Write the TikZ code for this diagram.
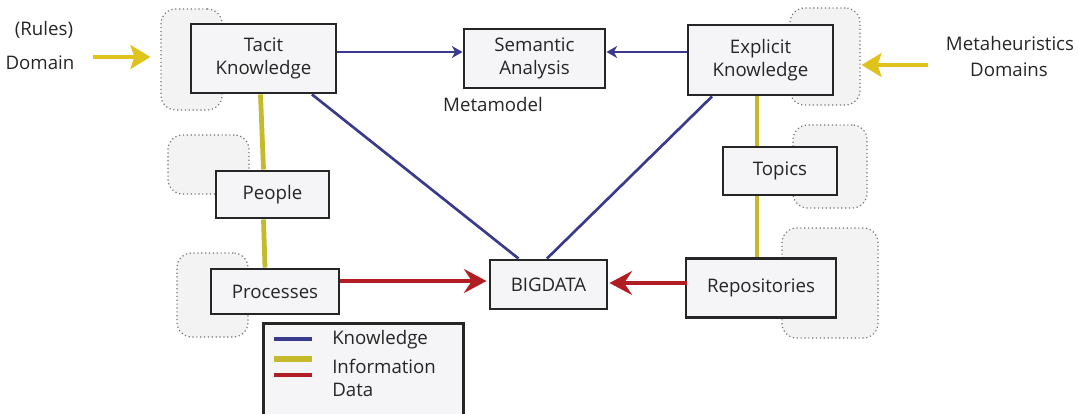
\documentclass[tikz,border=0pt]{standalone}
\usepackage{fontspec}
\setmainfont{Open Sans}
\usetikzlibrary{arrows.meta,calc}
\definecolor{kblue}{HTML}{3A3A8C}
\definecolor{iyel}{HTML}{C4BA2C}
\definecolor{ayel}{HTML}{E0C21C}
\definecolor{dred}{HTML}{B01E24}
\definecolor{boxfill}{HTML}{F5F4F6}
\definecolor{bgfill}{HTML}{F3F3F3}
\begin{document}
\begin{tikzpicture}[x=0.75pt,y=-0.75pt,
  every node/.style={font=\fontsize{14}{17.5}\selectfont, inner sep=0pt, text=black!85},
  box/.style={draw=black!85, line width=2.2pt, fill=boxfill, align=center},
  cloudbox/.style={draw=black!55, dotted, line width=0.9pt, fill=bgfill, rounded corners=11pt},
  know/.style={draw=kblue, line width=2pt},
  info/.style={draw=iyel, line width=3.6pt},
  data/.style={draw=dred, line width=2.6pt},
  karrow/.style={know, line width=1.5pt, -{Stealth[length=8pt,width=9pt,inset=2.5pt]}},
  yarrow/.style={draw=ayel, line width=2.3pt, -{Stealth[length=15pt,width=18pt,inset=3pt]}},
  darrow/.style={data, -{Stealth[length=17pt,width=18pt,inset=6pt]}},
  plain/.style={align=center}
]
\useasboundingbox (0,0) rectangle (1078,414);
\clip (0,0) rectangle (1078,414);

% dotted background shapes
\node[cloudbox, minimum width=45.75pt, minimum height=75.75pt] (tacitbg) at (191.5,59.5) {};
\node[cloudbox, minimum width=52.5pt, minimum height=72.75pt] (explbg) at (825,56.5) {};
\node[cloudbox, minimum width=60.75pt, minimum height=44.25pt] (peoplebg) at (208.5,164.5) {};
\node[cloudbox, minimum width=53.25pt, minimum height=63pt] (procbg) at (212.5,295) {};
\node[cloudbox, minimum width=55.5pt, minimum height=62.25pt] (topicsbg) at (830,166.5) {};
\node[cloudbox, minimum width=72pt, minimum height=82.5pt] (reposbg) at (830,283) {};

% main boxes
\node[box, minimum width=108.75pt, minimum height=51.75pt] (tacit) at (263.5,58.5) {Tacit\\Knowledge};
\node[box, minimum width=105.75pt, minimum height=44.25pt] (sem) at (534.5,58.5) {Semantic\\Analysis};
\node[box, minimum width=108.75pt, minimum height=52.5pt] (expl) at (760.5,60) {Explicit\\Knowledge};
\node[box, minimum width=85.5pt, minimum height=36pt] (topics) at (780,171) {Topics};
\node[box, minimum width=112.5pt, minimum height=44.25pt] (repos) at (761,288) {Repositories};
\node[box, minimum width=84.75pt, minimum height=35.25pt] (people) at (272.5,194.5) {People};
\node[box, minimum width=96pt, minimum height=33.75pt] (proc) at (275,291.5) {Processes};
\node[box, minimum width=87.75pt, minimum height=36.75pt] (big) at (548.5,284.5) {BIGDATA};

% labels
\node[plain] (rules) at (44,30) {(Rules)};
\node[plain] (domain) at (40,63) {Domain};
\node[plain] (meta) at (1010,43) {Metaheuristics};
\node[plain] (domains) at (1009,70) {Domains};
\node[plain] (metamodel) at (493,104) {Metamodel};

% knowledge connectors
\draw[karrow] ($(tacit.east)+(0,-6.5)$) -- ($(sem.west)+(0,-6.5)$);
\draw[karrow] ($(expl.west)+(0,-8)$) -- ($(sem.east)+(0,-6.5)$);
\draw[know] ($(tacit.south)+(48.5,0)$) -- ($(big.north)+(-30,0)$);
\draw[know] ($(expl.south)+(-48.5,0)$) -- ($(big.north)+(-1.5,0)$);

% information connectors
\draw[info] ($(tacit.south)+(-3,0)$) -- ($(people.north)+(-9,0)$);
\draw[info] ($(people.south)+(-9,0)$) -- ($(proc.north)+(-10,0)$);
\draw[info] ($(expl.south)+(-3.5,0)$) -- ($(topics.north)+(-23,0)$);
\draw[info] ($(topics.south)+(-23,0)$) -- ($(repos.north)+(-4,0)$);

% data connectors
\draw[darrow] ($(proc.east)+(0,-10.5)$) -- ($(big.west)+(-2,-3.5)$);
\draw[darrow] ($(repos.east)+(-150,-5)$) -- ($(big.east)+(1,-1.5)$);

% domain arrows
\coordinate (dstart) at (93,57);
\coordinate (mstart) at (928,65);
\draw[yarrow] (dstart) -- ($(tacitbg.west |- dstart)+(-10,0)$);
\draw[yarrow] (mstart) -- ($(explbg.east |- mstart)+(1,0)$);

% legend
\node[draw=black!85, line width=2.2pt, fill=boxfill, minimum width=150pt, minimum height=90pt, anchor=north west] (legend) at (262,322) {};
\draw[kblue, line width=2.4pt] (274,339) -- (312,339);
\draw[iyel, line width=3.8pt] (274,359) -- (312,359);
\draw[dred, line width=2.4pt] (274,375) -- (312,375);
\node[anchor=west] (lk) at (332,340) {Knowledge};
\node[anchor=west] (li) at (332,366) {Information};
\node[anchor=west] (ld) at (332,390) {Data};
\end{tikzpicture}
\end{document}
